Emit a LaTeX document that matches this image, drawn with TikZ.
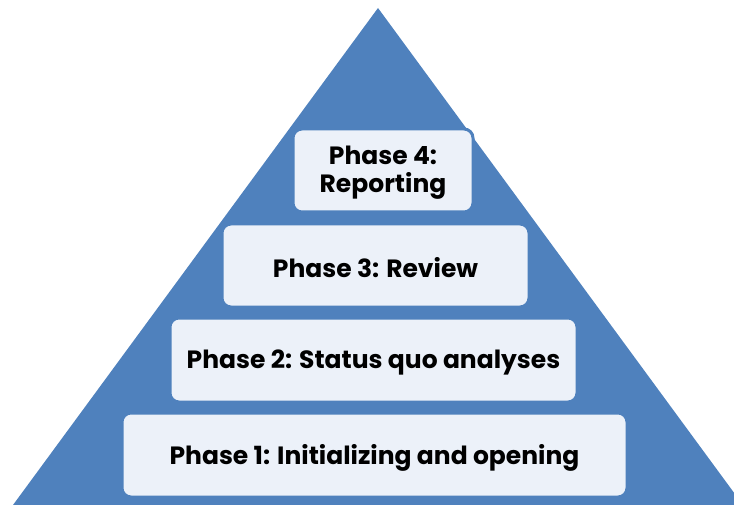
\documentclass[tikz,border=0pt]{standalone}
\usepackage{fontspec}
\setmainfont{Poppins}
\definecolor{triblue}{HTML}{4F81BD}
\definecolor{boxfill}{HTML}{ECF1F9}
\begin{document}
\begin{tikzpicture}[x=1pt,y=-1pt,
  phasebox/.style={draw=triblue,line width=3pt,fill=boxfill,rounded corners=9pt},
  phasetext/.style={font=\bfseries\fontsize{25}{28}\selectfont,text=black,align=center}]
\useasboundingbox (0,0) rectangle (734,505);
\begin{scope}
\clip (0,0) rectangle (734,505);
\fill[triblue] (13,505) -- (378,8) -- (743,505) -- cycle;
\end{scope}
\draw[phasebox] (293,129) rectangle (473,212);
\draw[phasebox] (222,224) rectangle (529,307);
\draw[phasebox] (170,318) rectangle (577,402);
\draw[phasebox] (122,413) rectangle (627,497);
\node[phasetext] (p4) at (383,173) {Phase 4:\\Reporting};
\node[phasetext] (p3) at (375.5,268) {Phase 3: Review};
\node[phasetext] (p2) at (373.5,362) {Phase 2: Status quo analyses};
\node[phasetext] (p1) at (374.5,458) {Phase 1: Initializing and opening};
\end{tikzpicture}
\end{document}
